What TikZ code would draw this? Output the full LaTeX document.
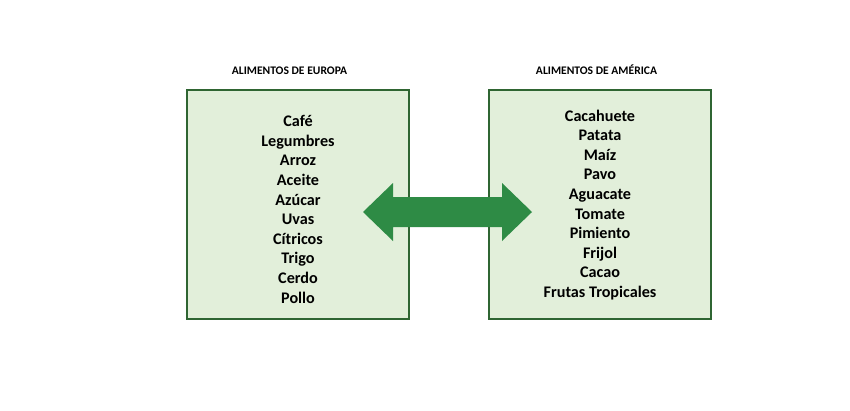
\documentclass[tikz,border=0pt]{standalone}
\usepackage{fontspec}
\setmainfont{Carlito}
\usepackage{tikz}
\usetikzlibrary{positioning}
\definecolor{verdeborde}{HTML}{2F6532}
\definecolor{verdefondo}{HTML}{E2EFDA}
\definecolor{verdeflecha}{HTML}{2E8B45}

\begin{document}
\begin{tikzpicture}[x=0.03cm,y=-0.03cm,
  caja/.style={draw=verdeborde,fill=verdefondo,line width=2.1pt,
    minimum width=6.66cm,minimum height=6.87cm,inner sep=0pt},
  titulo/.style={anchor=base,font=\fontsize{9.9}{11}\selectfont\bfseries},
  item/.style={anchor=base,font=\fontsize{13.8}{16}\selectfont\bfseries,inner sep=0pt}]
\useasboundingbox (0,0) rectangle (850,410);
\node[caja] (eur) at (298,204.5) {};
\node[caja] (ame) at (600,204.5) {};
\node[titulo] (teur) at (289.5,74.7) {ALIMENTOS DE EUROPA};
\node[titulo] (tame) at (596.5,74.7) {ALIMENTOS DE AMÉRICA};
\foreach \t [count=\i] in {Café,Legumbres,Arroz,Aceite,Azúcar,Uvas,Cítricos,Trigo,Cerdo,Pollo}
  \node[item] (e\i) at (298,{107.1+19.6*\i}) {\t};
\foreach \t [count=\i] in {Cacahuete,Patata,Maíz,Pavo,Aguacate,Tomate,Pimiento,Frijol,Cacao,Frutas Tropicales}
  \node[item] (a\i) at (600,{101.4+19.6*\i}) {\t};
\fill[verdeflecha] (363,212) -- (393,183) -- (393,197) -- (502,197) -- (502,183)
  -- (532,212) -- (502,241) -- (502,227) -- (393,227) -- (393,241) -- cycle;
\end{tikzpicture}
\end{document}
